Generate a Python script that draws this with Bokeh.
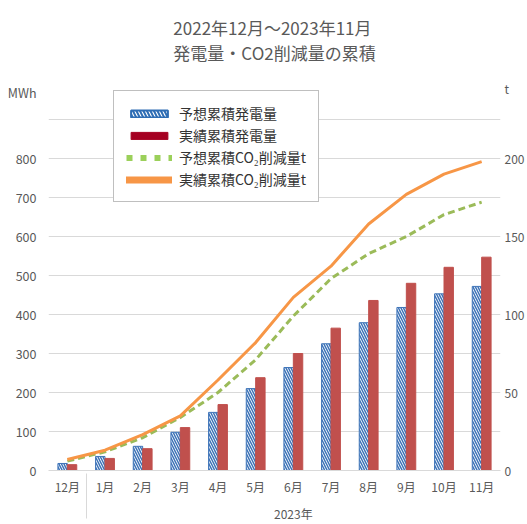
from bokeh.plotting import figure
from bokeh.models import (FactorRange, Range1d, LinearAxis, FixedTicker, Legend,
                          LegendItem, ColumnDataSource, CategoricalAxis, Title)
from bokeh.transform import dodge
from bokeh.embed import file_html
from bokeh.resources import INLINE

FONT = "Noto Sans CJK JP"

months = ["12月", "1月", "2月", "3月", "4月", "5月", "6月", "7月", "8月", "9月", "10月", "11月"]
years = [" ", "2023年", "2023年", "2023年", "2023年", "2023年", "2023年", "2023年", "2023年", "2023年", "2023年", "2023年"]
pred_mwh = [18, 36, 62, 98, 149, 210, 264, 325, 379, 418, 453, 472]
act_mwh = [15, 31, 56, 110, 169, 238, 300, 365, 436, 480, 521, 547]
pred_co2 = [6, 12, 21, 34, 50, 71, 99, 123, 139, 150, 164, 172]
act_co2 = [7, 13, 23, 35, 58, 82, 111, 131, 158, 177, 190, 198]
left_ticks = [0, 100, 200, 300, 400, 500, 600, 700, 800]
grid_ticks = [0, 100, 200, 300, 400, 500, 600, 700, 800, 900, 1000]
right_ticks = [0, 50, 100, 150, 200]
left_unit = "MWh"
right_unit = "t"
title1 = "2022年12月～2023年11月"
title2 = "発電量・CO2削減量の累積"
legend_labels = ["予想累積発電量", "実績累積発電量", "予想累積CO₂削減量t", "実績累積CO₂削減量t"]

# placement (axis units) of the unit captions at the top of each axis
LEFT_UNIT_POS = 970
RIGHT_UNIT_POS = 245

factors = list(zip(years, months))
src = ColumnDataSource(dict(x=factors, pred=pred_mwh, act=act_mwh,
                            pco2=pred_co2, aco2=act_co2))

p = figure(width=527, height=524, output_backend="svg", toolbar_location=None,
           x_range=FactorRange(*factors, group_padding=0, factor_padding=0, range_padding=0),
           y_range=Range1d(0, 1000),
           min_border_left=48, min_border_right=20, min_border_top=80, min_border_bottom=54)
p.title.visible = False
p.outline_line_color = None
p.background_fill_color = "white"
p.border_fill_color = "white"
p.extra_y_ranges = {"t": Range1d(0, 250)}

p.add_layout(Title(text=title1 + "\n" + title2, align="center", text_font=FONT,
                   text_font_size="17px", text_font_style="normal",
                   text_color="#595959", standoff=27, text_line_height=1.0,
                   vertical_align="top"), "above")

p.xgrid.visible = False
p.ygrid.ticker = FixedTicker(ticks=grid_ticks)
p.ygrid.grid_line_color = "#D9D9D9"
p.ygrid.grid_line_width = 1

ya = p.yaxis[0]
ya.ticker = FixedTicker(ticks=left_ticks + [LEFT_UNIT_POS])
ya.major_label_overrides = {LEFT_UNIT_POS: left_unit}
ya.axis_line_color = None
ya.major_tick_line_color = None
ya.minor_tick_line_color = None
ya.major_tick_out = 0
ya.major_tick_in = 0
ya.minor_tick_out = 0
ya.minor_tick_in = 0
ya.major_label_standoff = 12
ya.major_label_text_font = FONT
ya.major_label_text_font_size = "12.5px"
ya.major_label_text_color = "#595959"

ra = LinearAxis(y_range_name="t", ticker=FixedTicker(ticks=right_ticks + [RIGHT_UNIT_POS]))
ra.major_label_overrides = {RIGHT_UNIT_POS: right_unit}
ra.axis_line_color = None
ra.major_tick_line_color = None
ra.minor_tick_line_color = None
ra.major_tick_out = 0
ra.major_tick_in = 0
ra.minor_tick_out = 0
ra.minor_tick_in = 0
ra.major_label_standoff = 4
ra.major_label_text_font = FONT
ra.major_label_text_font_size = "12px"
ra.major_label_text_color = "#595959"
p.add_layout(ra, "right")

xa = p.xaxis[0]
xa.axis_line_color = "#D9D9D9"
xa.major_tick_line_color = None
xa.minor_tick_line_color = None
xa.major_tick_out = 0
xa.major_tick_in = 0
xa.major_label_standoff = 7
xa.major_label_orientation = "horizontal"
xa.major_label_text_font = FONT
xa.major_label_text_font_size = "12px"
xa.major_label_text_color = "#595959"
xa.group_text_font = FONT
xa.group_text_font_size = "12px"
xa.group_text_color = "#595959"
xa.group_text_font_style = "normal"
if "separator_line_color" in CategoricalAxis.properties():
    xa.separator_line_color = "#D9D9D9"
    xa.separator_line_width = 1

BLUE = "#3E74B8"
RED = "#C0504D"
r1 = p.vbar(x=dodge("x", -0.125, range=p.x_range), top="pred", width=0.25, source=src,
            fill_color="white", line_color=BLUE, line_width=1,
            hatch_pattern="\\", hatch_color=BLUE, hatch_weight=1.5, hatch_scale=5)
r2 = p.vbar(x=dodge("x", 0.125, range=p.x_range), top="act", width=0.25, source=src,
            fill_color=RED, line_color=RED)
r3 = p.line(x="x", y="pco2", source=src, y_range_name="t", line_color="#9BBB59",
            line_width=3, line_dash="7 4")
r4 = p.line(x="x", y="aco2", source=src, y_range_name="t", line_color="#F79646",
            line_width=3)

# hidden copies with legend styling (drawn only in the legend)
g1 = p.vbar(x=dodge("x", -0.125, range=p.x_range), top="pred", width=0.25, source=src,
            fill_color="white", line_color="#2E6DB4", line_width=2, hatch_pattern="\\",
            hatch_color="#2E6DB4", hatch_weight=2, hatch_scale=7, visible=False)
g2 = p.vbar(x=dodge("x", 0.125, range=p.x_range), top="act", width=0.25, source=src,
            fill_color="#A50021", line_color="#A50021", visible=False)
g3 = p.line(x="x", y="pco2", source=src, y_range_name="t", line_color="#9BD05A",
            line_width=6, line_dash="6 8", visible=False)
g4 = p.line(x="x", y="aco2", source=src, y_range_name="t", line_color="#F79646",
            line_width=7, line_cap="round", visible=False)
legend = Legend(items=[LegendItem(label=legend_labels[0], renderers=[g1]),
                       LegendItem(label=legend_labels[1], renderers=[g2]),
                       LegendItem(label=legend_labels[2], renderers=[g3]),
                       LegendItem(label=legend_labels[3], renderers=[g4])],
                location=(65, 268), glyph_width=46, glyph_height=9,
                label_standoff=7, spacing=2, padding=12, margin=0,
                label_text_font=FONT, label_text_font_size="14px",
                label_text_color="#333333", border_line_color="#808080",
                border_line_width=1, background_fill_alpha=1,
                label_height=20, inactive_fill_alpha=0)
p.add_layout(legend, "center")

open("out.html", "w").write(file_html(p, INLINE))
